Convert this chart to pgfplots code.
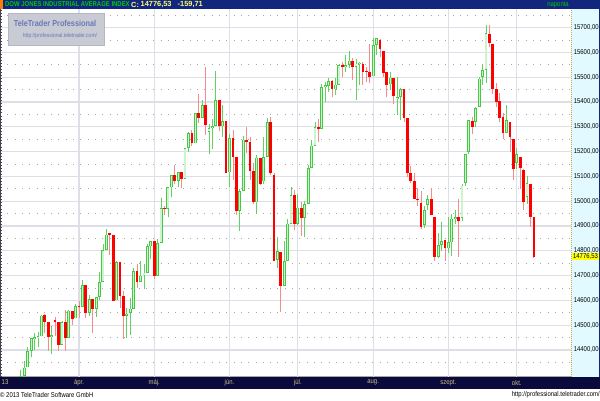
\documentclass[border=0pt]{standalone}
\usepackage{fontspec}
\setmainfont{Liberation Sans}[FakeStretch=0.85]
\newfontfamily\widefont{Liberation Sans}
\usepackage{pgfplots}
\usepackage{pgfplotstable}
\usetikzlibrary{calc}
\pgfplotsset{compat=1.18}
\pgfdeclarelayer{background}
\pgfsetlayers{background,main}
\definecolor{headnavy}{RGB}{18,38,125}
\definecolor{barnavy}{RGB}{10,10,60}
\definecolor{hgreen}{RGB}{0,205,0}
\definecolor{hyellow}{RGB}{255,255,110}
\definecolor{khaki}{RGB}{205,195,135}
\definecolor{panelcyan}{RGB}{226,250,255}
\definecolor{gridgray}{RGB}{222,222,230}
\definecolor{dotgray}{RGB}{165,165,170}
\definecolor{downred}{RGB}{255,0,0}
\definecolor{downwick}{RGB}{245,140,140}
\definecolor{upline}{RGB}{70,200,70}
\definecolor{upfill}{RGB}{205,245,205}
\definecolor{upwick}{RGB}{95,210,95}
\definecolor{wmgray}{RGB}{200,202,212}
\definecolor{wmborder}{RGB}{180,182,195}
\definecolor{wmblue}{RGB}{105,122,180}
\definecolor{priceyellow}{RGB}{255,255,0}
\definecolor{edgegray}{RGB}{70,70,80}

\pgfplotstableread{
i o h l c
-17 14254 14320 14254 14296
-16 14296 14354 14280 14329
-15 14330 14413 14330 14397
-14 14396 14448 14370 14447
-13 14446 14470 14400 14450
-12 14450 14472 14414 14455
-11 14455 14543 14455 14539
-10 14541 14545 14470 14514
-9 14512 14512 14395 14452
-8 14452 14498 14385 14455
-7 14521 14534 14456 14511
-6 14511 14511 14395 14421
-5 14422 14516 14422 14512
-4 14512 14563 14395 14447
-3 14448 14561 14448 14559
-2 14557 14557 14500 14526
-1 14527 14585 14527 14578
0 14578 14598 14531 14572
1 14573 14684 14573 14662
2 14662 14662 14529 14550
3 14550 14620 14538 14606
4 14606 14606 14470 14565
5 14565 14613 14533 14613
6 14613 14716 14603 14673
7 14674 14826 14674 14802
8 14802 14888 14802 14865
9 14868 14870 14784 14865
10 14865 14865 14598 14599
11 14600 14757 14600 14756
12 14756 14756 14571 14618
13 14618 14639 14444 14537
14 14537 14571 14450 14547
15 14548 14610 14460 14567
16 14567 14730 14567 14719
17 14719 14747 14650 14676
18 14676 14760 14676 14700
19 14701 14745 14646 14712
20 14712 14828 14712 14818
21 14818 14840 14765 14839
22 14839 14839 14687 14700
23 14700 14847 14700 14831
24 14831 15013 14831 14973
25 14973 14980 14944 14968
26 14968 15056 14935 15056
27 15056 15106 15015 15105
28 15105 15146 15068 15082
29 15082 15118 15057 15118
30 15118 15118 15053 15091
31 15091 15216 15091 15215
32 15215 15279 15200 15275
33 15275 15289 15224 15233
34 15233 15355 15233 15354
35 15354 15431 15317 15335
36 15335 15409 15335 15387
37 15387 15542 15267 15307
38 15280 15310 15190 15294
39 15294 15330 15210 15303
40 15303 15523 15303 15409
41 15408 15408 15282 15302
42 15302 15388 15260 15324
43 15324 15324 15113 15115
44 15116 15272 15058 15254
45 15254 15288 15087 15177
46 15177 15177 14946 14960
47 14960 15051 14880 15040
48 15040 15262 15040 15248
49 15248 15299 15196 15238
50 15238 15260 15084 15122
51 15122 15153 14990 14995
52 14995 15185 14952 15176
53 15176 15176 15064 15070
54 15080 15260 15070 15179
55 15179 15335 15179 15318
56 15318 15340 15105 15112
57 15105 15112 14758 14758
58 14763 14857 14731 14799
59 14796 14796 14554 14659
60 14660 14838 14660 14760
61 14760 14930 14760 14910
62 14910 15058 14910 15024
63 15024 15046 14882 14909
64 14910 15028 14902 14974
65 14974 14998 14858 14932
66 14932 15000 14857 14988
67 14988 15146 14988 15135
68 15135 15246 15134 15224
69 15224 15319 15224 15300
70 15300 15330 15238 15291
71 15291 15474 15291 15460
72 15460 15479 15398 15464
73 15464 15498 15442 15484
74 15484 15490 15420 15451
75 15451 15498 15427 15470
76 15470 15552 15470 15548
77 15548 15560 15500 15543
78 15541 15589 15520 15545
79 15548 15604 15538 15567
80 15567 15577 15488 15542
81 15541 15575 15408 15555
82 15552 15562 15468 15558
83 15553 15560 15470 15521
84 15522 15540 15482 15520
85 15520 15634 15475 15499
86 15503 15658 15503 15628
87 15630 15658 15590 15658
88 15650 15655 15580 15612
89 15604 15604 15500 15518
90 15519 15519 15421 15470
91 15471 15520 15447 15498
92 15498 15498 15393 15425
93 15413 15502 15347 15420
94 15420 15456 15329 15451
95 15451 15451 15319 15337
96 15334 15334 15098 15112
97 15113 15141 15074 15081
98 15082 15112 15010 15010
99 15010 15053 14980 15003
100 14993 15040 14886 14897
101 14904 14980 14890 14963
102 14985 15025 14964 15010
103 15010 15053 14945 14946
104 14937 14937 14760 14776
105 14776 14870 14770 14824
106 14825 14917 14800 14840
107 14843 14843 14760 14810
108 14810 14935 14790 14834
109 14834 14950 14781 14930
110 14930 14966 14910 14937
111 14937 15009 14776 14922
112 14932 15071 14922 15063
113 15073 15191 15063 15191
114 15200 15326 15191 15326
115 15323 15340 15270 15300
116 15320 15380 15300 15376
117 15381 15500 15381 15494
118 15502 15549 15470 15529
119 15530 15709 15476 15677
120 15674 15709 15620 15636
121 15634 15634 15431 15451
122 15452 15477 15380 15401
123 15404 15436 15318 15334
124 15341 15357 15250 15273
125 15275 15388 15275 15328
126 15319 15319 15200 15258
127 15251 15251 15085 15130
128 15154 15213 15130 15191
129 15179 15179 15050 15133
130 15126 15130 14965 14996
131 15018 15100 14990 15072
132 15069 15069 14895 14936
133 14937 14937 14770 14776
}\candles

\begin{document}
\begin{tikzpicture}[x=1pt,y=1pt]
\begin{axis}[
  scale only axis, width=571pt, height=367.5pt,
  xmin=-23.1, xmax=143.86, ymin=14293.1, ymax=15775,
  clip mode=individual,
  separate axis lines, axis line style={draw=none},
  major tick length=0pt, minor tick length=0pt,
  scaled x ticks=false, scaled y ticks=false,
  xtick={0,22,44,64,86,108,128},
  xticklabels={ápr., máj., jún., júl., aug., szept., okt.},
  xticklabel style={anchor=center, inner sep=0pt, yshift=-6pt, text=khaki},
  ytick={14400,14500,...,15700},
  minor ytick={14350,14450,...,15750},
  yticklabel pos=right,
  yticklabel={\pgfmathprintnumber[assume math mode=true,fixed,fixed zerofill,precision=2,use comma,1000 sep={}]{\tick}},
  yticklabel style={anchor=west, inner sep=0pt, xshift=2.6pt, text=black},
  ticklabel style={font=\fontsize{7}{8}\selectfont},
  /pgf/number format/assume math mode=true,
  xmajorgrids, ymajorgrids, yminorgrids,
  major grid style={draw=gridgray, line width=1.2pt},
  minor grid style={draw=dotgray, line width=0.9pt, dash pattern=on 0.9pt off 6.4pt},
]
\coordinate (BL) at (rel axis cs:0,0);
% wicks
\addplot[draw=upwick, line width=0.8pt,
  x filter/.expression={\thisrow{c}>=\thisrow{o} ? x : nan},
  quiver={u=0, v={\thisrow{h}-\thisrow{l}}}] table[x=i, y=l] {\candles};
\addplot[draw=downwick, line width=0.8pt,
  x filter/.expression={\thisrow{c}<\thisrow{o} ? x : nan},
  quiver={u=0, v={\thisrow{h}-\thisrow{l}}}] table[x=i, y=l] {\candles};
% up bodies
\addplot[draw=upline, line width=2.9pt,
  x filter/.expression={\thisrow{c}>=\thisrow{o} ? x : nan},
  quiver={u=0, v={max(\thisrow{c}-\thisrow{o},7)}}] table[x=i, y=o] {\candles};
\addplot[draw=upfill, line width=1.2pt, shorten <=0.8pt, shorten >=0.8pt,
  x filter/.expression={\thisrow{c}>=\thisrow{o} ? x : nan},
  quiver={u=0, v={max(\thisrow{c}-\thisrow{o},7)}}] table[x=i, y=o] {\candles};
% down bodies
\addplot[draw=downred, line width=2.7pt,
  x filter/.expression={\thisrow{c}<\thisrow{o} ? x : nan},
  quiver={u=0, v={max(\thisrow{o}-\thisrow{c},5)}}] table[x=i, y=c] {\candles};
% last price label
\node[fill=priceyellow, inner sep=0.7pt, anchor=west, xshift=1.2pt,
  font=\fontsize{7}{8}\selectfont] at (axis cs:143.86,14776.53) {14776,53};
\end{axis}
\begin{scope}[shift={($(BL)+(0,-23.5)$)}]
\begin{pgfonlayer}{background}
% right price panel
\fill[panelcyan] (571,23.5) rectangle (598.5,391);
% right border
\fill[headnavy] (598.5,11) rectangle (600,391);
% bottom bar
\fill[barnavy] (0,11) rectangle (600,23.5);
\fill[gray!70] (0,22.6) rectangle (571,23.8);
\end{pgfonlayer}
% dotted yellow separator
\draw[color={rgb,255:red,190;green,180;blue,60}, line width=0.8pt, dash pattern=on 0.8pt off 1.2pt] (571,23.5) -- (571,391);
% left edge
\draw[edgegray, line width=0.8pt] (0.4,23.5) -- (0.4,391);
\draw[edgegray, line width=1.6pt, dash pattern=on 0.6pt off 2.5pt] (0.8,23.5) -- (0.8,391);
% header
\fill[headnavy] (0,391) rectangle (600,400);
\fill[orange] (0,391) rectangle (2.5,400);
\node[anchor=west, inner sep=0pt, text=hgreen, font=\fontsize{7}{8}\selectfont\bfseries] at (5,395.5)
  {DOW JONES INDUSTRIAL AVERAGE INDEX};
\node[anchor=west, inner sep=0pt, text=hyellow, font=\widefont\fontsize{7.4}{8}\selectfont\bfseries] at (131,395.5) {C:};
\node[anchor=west, inner sep=0pt, text=hyellow, font=\widefont\fontsize{7.4}{8}\selectfont\bfseries] at (140.5,395.5) {14776,53};
\node[anchor=west, inner sep=0pt, text=hyellow, font=\widefont\fontsize{7.4}{8}\selectfont\bfseries] at (177.5,395.5) {-159,71};
\node[anchor=east, inner sep=0pt, text=hgreen, font=\fontsize{7}{8}\selectfont] at (569,395.5) {naponta};
\node[anchor=west, inner sep=0pt, text=khaki, font=\fontsize{7}{8}\selectfont] at (1.5,17.5) {13};
% watermark
\filldraw[fill=wmgray, draw=wmborder, line width=0.6pt] (8,355) rectangle (104,387);
\node[text=wmblue, inner sep=0pt, font=\fontsize{8.6}{10}\selectfont\bfseries] at (55,376.5) {TeleTrader Professional};
\node[text=wmblue, inner sep=0pt, font=\fontsize{5.9}{7}\selectfont] at (60,364) {http://professional.teletrader.com/};
% footer
\node[anchor=west, inner sep=0pt, font=\fontsize{7}{8}\selectfont] at (0,5) {© 2013 TeleTrader Software GmbH};
\node[anchor=east, inner sep=0pt, font=\fontsize{7}{8}\selectfont] at (600,5) {http://professional.teletrader.com/};
\end{scope}
\pgfresetboundingbox
\path[use as bounding box] ($(BL)+(0,-23.5)$) rectangle ++(600,400);
\end{tikzpicture}
\end{document}
